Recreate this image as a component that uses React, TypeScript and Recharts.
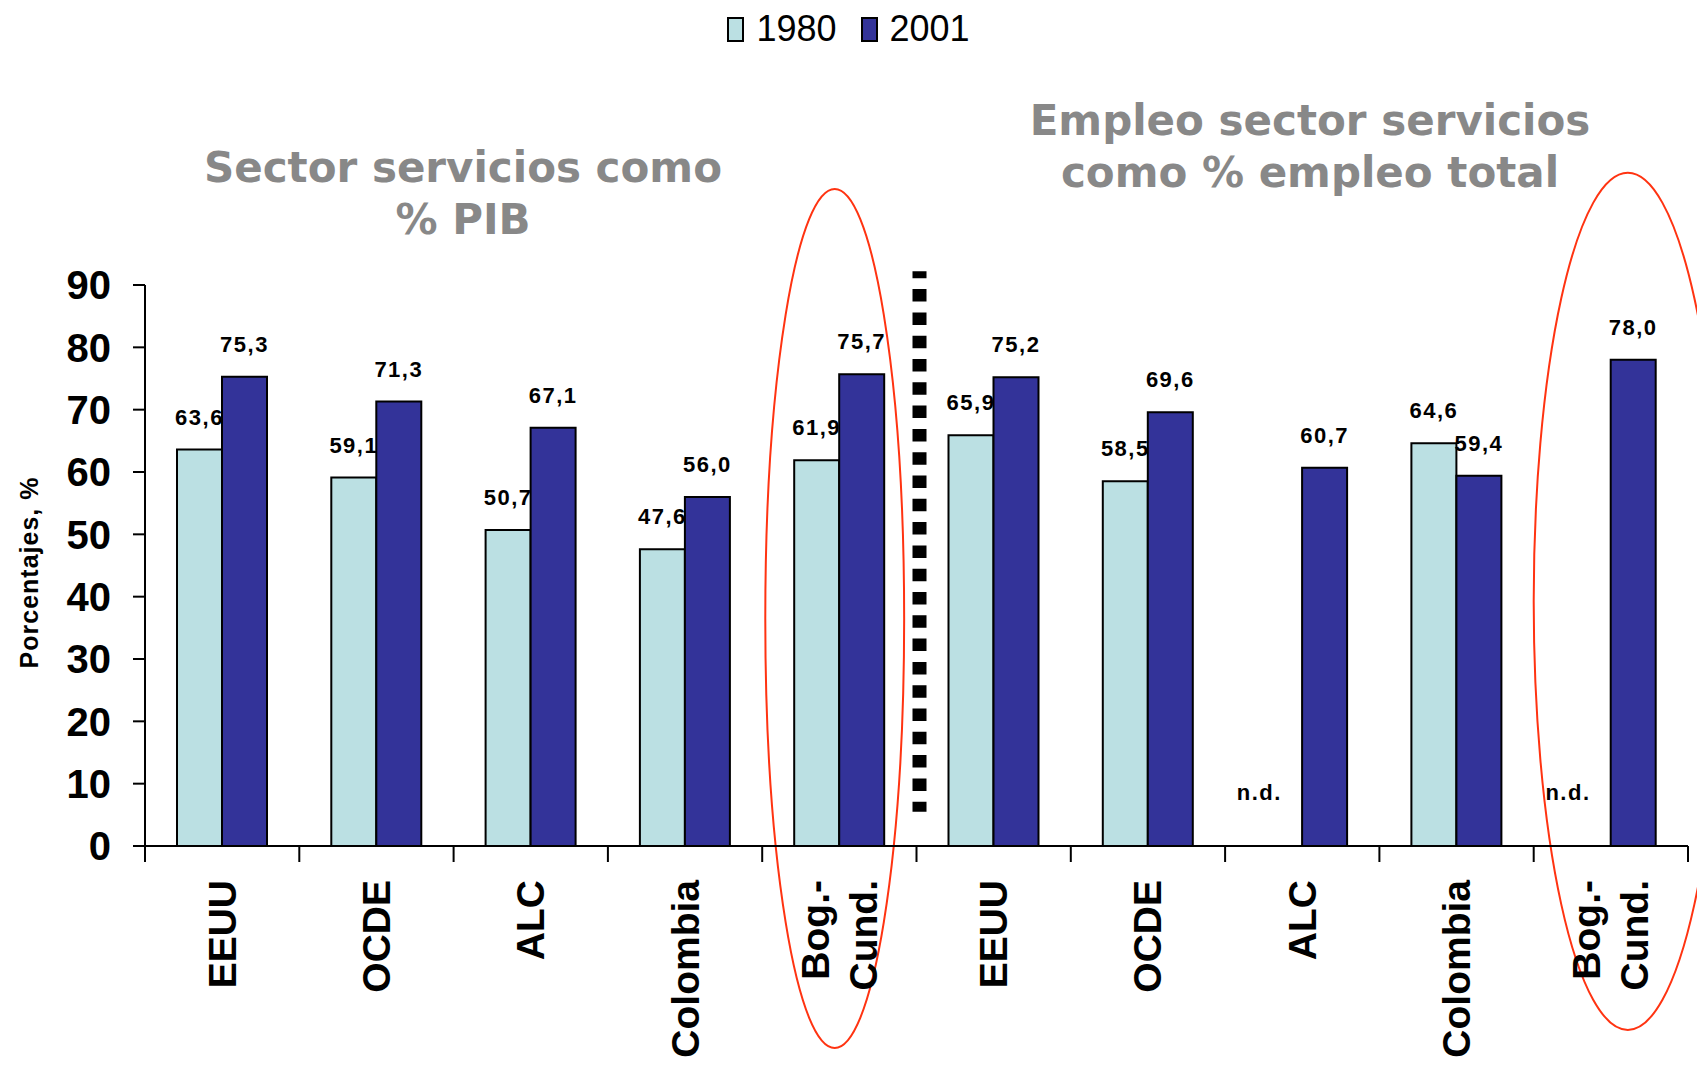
import React from 'react'
import { Bar, BarChart, LabelList, Legend, ReferenceArea, ReferenceLine, XAxis, YAxis } from 'recharts'

// category ids are unique, the shown names are in categoryLabels
const categories = ['pib-eeuu', 'pib-ocde', 'pib-alc', 'pib-col', 'pib-bog', 'emp-eeuu', 'emp-ocde', 'emp-alc', 'emp-col', 'emp-bog']
const categoryLabels = [['EEUU'], ['OCDE'], ['ALC'], ['Colombia'], ['Bog.-', 'Cund.'], ['EEUU'], ['OCDE'], ['ALC'], ['Colombia'], ['Bog.-', 'Cund.']]
const values1980 = [63.6, 59.1, 50.7, 47.6, 61.9, 65.9, 58.5, null, 64.6, null]
const values2001 = [75.3, 71.3, 67.1, 56.0, 75.7, 75.2, 69.6, 60.7, 59.4, 78.0]
const seriesNames = ['1980', '2001']
const yTicks = [0, 10, 20, 30, 40, 50, 60, 70, 80, 90]
const titlePib = ['Sector servicios como', '% PIB']
const titleEmpleo = ['Empleo sector servicios', 'como % empleo total']
const yLabel = 'Porcentajes, %'
const noData = 'n.d.'

const colors = ['#BBE0E3', '#333399']
const FONT = '"Liberation Sans", Arial, sans-serif'

const data = categories.map((id, i) => ({ id, v1980: values1980[i], v2001: values2001[i] }))

const fmt = (v: number) => v.toFixed(1).replace('.', ',')

const labelStyle = { fontFamily: FONT, fontSize: 22, fontWeight: 'bold' as const, letterSpacing: 1.5, fill: '#000' }

function ValueLabel(props: any) {
  const vb = props.viewBox ?? props
  if (props.value == null) return null
  return (
    <text x={vb.x + vb.width / 2} y={vb.y - 25} textAnchor='middle' style={labelStyle}>
      {fmt(Number(props.value))}
    </text>
  )
}

// "n.d." drawn next to the 2001 bar where 1980 has no value
function NoDataLabel(props: any) {
  const vb = props.viewBox ?? props
  if (values1980[props.index] != null) return null
  return (
    <text x={vb.x - vb.width * 0.95} y={vb.y + vb.height - 46} textAnchor='middle' style={labelStyle}>
      {noData}
    </text>
  )
}

function XTick(props: any) {
  const { x, y, payload, index } = props
  const half = payload.offset ?? 77
  const lines = categoryLabels[index] ?? [String(payload.value)]
  const last = index === categories.length - 1
  return (
    <g>
      <line x1={x - half} x2={x - half} y1={y} y2={y + 16} stroke='#000' strokeWidth={2} />
      {last && <line x1={x + half} x2={x + half} y1={y} y2={y + 16} stroke='#000' strokeWidth={2} />}
      {lines.map((l: string, i: number) => (
        <text
          key={l}
          transform={`translate(${x + (i - (lines.length - 1) / 2) * 48}, ${y + 34}) rotate(-90)`}
          textAnchor='end'
          dominantBaseline='central'
          fontFamily={FONT}
          fontSize={39}
          fontWeight='bold'
          fill='#000'
        >
          {l}
        </text>
      ))}
    </g>
  )
}

function YTitle(props: any) {
  const vb = props.viewBox
  const cx = vb.x + 14
  const cy = vb.y + vb.height / 2 + 7
  return (
    <text
      transform={`translate(${cx}, ${cy}) rotate(-90)`}
      textAnchor='middle'
      dominantBaseline='central'
      fontFamily={FONT}
      fontSize={25}
      fontWeight='bold'
      letterSpacing={1}
      fill='#000'
    >
      {yLabel}
    </text>
  )
}

function LegendContent() {
  return (
    <div style={{ display: 'flex', justifyContent: 'center', alignItems: 'center', fontFamily: FONT, fontSize: 36, color: '#000' }}>
      {seriesNames.map((n, i) => (
        <span key={n} style={{ display: 'flex', alignItems: 'center', marginRight: i === 0 ? 24 : 0 }}>
          <span style={{ width: 13, height: 21, border: '2px solid #000', background: colors[i], marginRight: 12 }} />
          <span>{n}</span>
        </span>
      ))}
    </div>
  )
}

const ellipseShape = (fx: number, fr: number) => (p: any) => (
  <ellipse cx={p.x + p.width * fx} cy={p.y + p.height / 2} rx={p.width * fr} ry={p.height / 2} fill='none' stroke='#FF3311' strokeWidth={2} />
)

// dotted divider, sits just right of the band edge
const dividerShape = (p: any) => (
  <line x1={p.x1 + 3} x2={p.x2 + 3} y1={p.y1} y2={p.y2} stroke='#000' strokeWidth={14} strokeDasharray='12.5 10.8' strokeDashoffset={5.5} />
)

function Titles() {
  const common = { textAnchor: 'middle' as const, fill: '#888', fontFamily: '"DejaVu Sans", Verdana, sans-serif', fontWeight: 'bold', fontSize: 42 }
  return (
    <g>
      {titlePib.map((t, i) => (
        <text key={t} x={463} y={182 + i * 52} {...common}>{t}</text>
      ))}
      {titleEmpleo.map((t, i) => (
        <text key={t} x={1310} y={135 + i * 52} {...common}>{t}</text>
      ))}
    </g>
  )
}

export default function App() {
  return (
    <div style={{ position: 'absolute', left: 0, top: 0, width: 1697, height: 1066, overflow: 'hidden', background: '#fff' }}>
      <BarChart width={1697} height={1066} data={data} margin={{ top: 285, right: 9, bottom: 20, left: 15 }} barGap={0}>
        <XAxis dataKey='id' interval={0} height={200} tickSize={0} tickMargin={0} tickLine={false} axisLine={{ stroke: '#000', strokeWidth: 2 }} tick={<XTick />} />
        <YAxis
          domain={[0, 90]}
          ticks={yTicks}
          width={130}
          tickSize={12}
          tickMargin={22}
          axisLine={{ stroke: '#000', strokeWidth: 2 }}
          tickLine={{ stroke: '#000', strokeWidth: 2 }}
          tick={{ fontFamily: FONT, fontSize: 40, fontWeight: 'bold', fill: '#000' }}
          label={YTitle}
        />
        <Legend verticalAlign='middle' align='center' layout='horizontal' content={<LegendContent />} wrapperStyle={{ top: 8, left: 0, width: 1697 }} />
        <Bar dataKey='v1980' name={seriesNames[0]} fill={colors[0]} stroke='#000' strokeWidth={2} barSize={45} isAnimationActive={false}>
          <LabelList dataKey='v1980' content={ValueLabel} />
        </Bar>
        <Bar dataKey='v2001' name={seriesNames[1]} fill={colors[1]} stroke='#000' strokeWidth={2} barSize={45} isAnimationActive={false}>
          <LabelList dataKey='v2001' content={ValueLabel} />
          <LabelList dataKey='v2001' content={NoDataLabel} />
        </Bar>
        <ReferenceLine
          segment={[{ x: 'pib-bog', y: 92.2 }, { x: 'pib-bog', y: 5.5 }]}
          position='end'
          ifOverflow='visible'
          shape={dividerShape}
        />
        <ReferenceArea x1='pib-bog' x2='pib-bog' y1={-32.4} y2={105.4} ifOverflow='visible' shape={ellipseShape(0.47, 0.45)} />
        <ReferenceArea x1='emp-bog' x2='emp-bog' y1={-29.5} y2={108} ifOverflow='visible' shape={ellipseShape(0.61, 0.61)} />
        <Titles />
      </BarChart>
    </div>
  )
}
